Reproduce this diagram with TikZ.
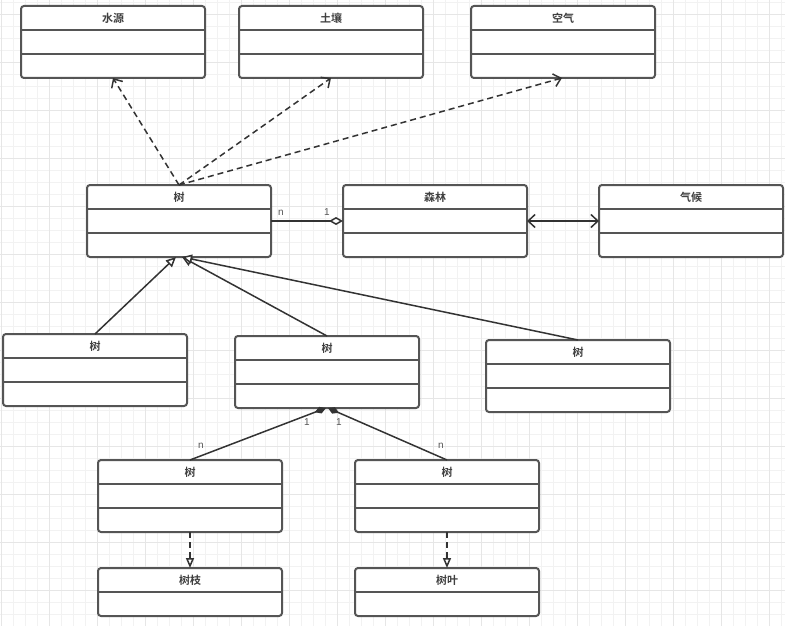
\documentclass[tikz,border=0pt]{standalone}
\usepackage{fontspec}
\setmainfont{Noto Sans CJK SC}[BoldFont={Noto Sans CJK SC Bold}]
\newfontfamily\lblfont{Liberation Sans}
\usetikzlibrary{arrows.meta,calc}
\definecolor{boxc}{HTML}{555555}
\definecolor{edgec}{HTML}{333333}
\definecolor{gmin}{HTML}{F2F2F2}
\definecolor{gmaj}{HTML}{E6E6E6}
\definecolor{lblc}{HTML}{555555}
\tikzset{
  cls/.style={draw=boxc, line width=2pt, rounded corners=3pt, fill=white,
    minimum width=184pt, inner sep=0pt, outer sep=0pt, anchor=north west},
  ttl/.style={font=\bfseries\fontsize{11pt}{12pt}\selectfont, text=black!75, inner sep=0pt},
  div/.style={draw=boxc, line width=2pt},
  edge/.style={draw=edgec, line width=1.5pt},
  dep/.style={edge, dash pattern=on 6pt off 4pt,
    -{Straight Barb[length=7pt,width=13pt,line width=1.5pt]}},
  gen/.style={edge, -{Triangle[fill=white,length=10pt,width=9pt,line width=1.5pt]}},
  real/.style={edge, dash pattern=on 6pt off 4pt,
    -{Triangle[fill=white,length=10pt,width=8pt,line width=1.5pt]}},
  agg/.style={edge, -{Diamond[fill=white,length=14pt,width=8pt,line width=1.5pt]}},
  comp/.style={edge, -{Diamond[length=12pt,width=7pt]}},
  assoc/.style={edge, {Straight Barb[length=7pt,width=13pt,line width=1.5pt]}-{Straight Barb[length=7pt,width=13pt,line width=1.5pt]}},
  lbl/.style={font=\lblfont\fontsize{10pt}{10pt}\selectfont, text=lblc, inner sep=0pt},
  gminor/.style={draw=gmin, line width=1pt},
  gmajor/.style={draw=gmaj, line width=1pt},
}
\newcommand{\umlthree}[4]{%
  \node[cls, minimum height=72pt] (#1) at (#2,#3) {};
  \node[ttl] (#1-t) at ($(#1.north)+(0,-12pt)$) {#4};
  \draw[div] ([yshift=-24pt]#1.north west) -- ([yshift=-24pt]#1.north east);
  \draw[div] ([yshift=-48pt]#1.north west) -- ([yshift=-48pt]#1.north east);
}
\newcommand{\umltwo}[4]{%
  \node[cls, minimum height=48pt] (#1) at (#2,#3) {};
  \node[ttl] (#1-t) at ($(#1.north)+(0,-12pt)$) {#4};
  \draw[div] ([yshift=-24pt]#1.north west) -- ([yshift=-24pt]#1.north east);
}
\begin{document}
\begin{tikzpicture}[x=1pt,y=-1pt]
\useasboundingbox (0,0) rectangle (785,626);
\fill[white] (0,0) rectangle (785,626);
% grid
\foreach \i in {0,...,65} {
  \pgfmathsetmacro\gx{1.3+12*\i}
  \draw[gminor] (\gx,0) -- (\gx,626);
}
\foreach \i in {0,...,52} {
  \pgfmathsetmacro\gy{2.7+12*\i}
  \draw[gminor] (0,\gy) -- (785,\gy);
}
\foreach \i in {0,...,16} {
  \pgfmathsetmacro\gx{1.3+48*\i}
  \draw[gmajor] (\gx,0) -- (\gx,626);
}
\foreach \i in {0,...,13} {
  \pgfmathsetmacro\gy{14.7+48*\i}
  \draw[gmajor] (0,\gy) -- (785,\gy);
}
% classes
\umlthree{water}{21}{6}{水源}
\umlthree{soil}{239}{6}{土壤}
\umlthree{air}{471}{6}{空气}
\umlthree{tree}{87}{185}{树}
\umlthree{forest}{343}{185}{森林}
\umlthree{climate}{599}{185}{气候}
\umlthree{treeA}{3}{334}{树}
\umlthree{treeB}{235}{336}{树}
\umlthree{treeC}{486}{340}{树}
\umlthree{treeD}{98}{460}{树}
\umlthree{treeE}{355}{460}{树}
\umltwo{branch}{98}{568}{树枝}
\umltwo{leaf}{355}{568}{树叶}
% dependencies
\draw[dep] (tree.north) -- (water.south);
\draw[dep] (tree.north) -- (soil.south);
\draw[dep] (tree.north) -- ($(air.south)+(-1pt,0)$);
% aggregation
\draw[agg] (tree.east) -- (forest.west);
\node[lbl] (agg-n) at (281,213) {n};
\node[lbl] (agg-1) at (327,212) {1};
% association
\draw[assoc] (forest.east) -- (climate.west);
% generalization
\draw[gen] (treeA.north) -- ($(tree.south)+(-3pt,0)$);
\draw[gen] (treeB.north) -- ($(tree.south)+(3pt,0)$);
\draw[gen] (treeC.north) -- ($(tree.south)+(3pt,0)$);
% composition
\draw[comp] (treeD.north) -- ($(treeB.south)+(-1pt,0)$);
\draw[comp] (treeE.north) -- ($(treeB.south)+(1pt,0)$);
\node[lbl] (c1) at (307,422) {1};
\node[lbl] (c2) at (339,422) {1};
\node[lbl] (cn1) at (201,446) {n};
\node[lbl] (cn2) at (441,446) {n};
% realization
\draw[real] (treeD.south) -- (branch.north);
\draw[real] (treeE.south) -- (leaf.north);
\end{tikzpicture}
\end{document}
